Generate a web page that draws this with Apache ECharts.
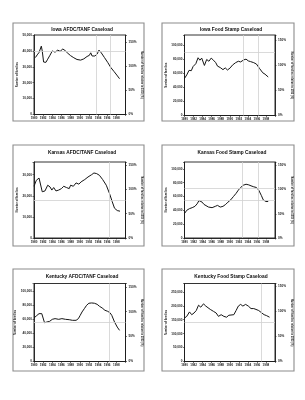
<!DOCTYPE html>
<html>
<head>
<meta charset="utf-8">
<script src="https://cdn.jsdelivr.net/npm/echarts@6/dist/echarts.min.js"></script>
<style>
html, body { margin: 0; padding: 0; background: #fff; }
#main { width: 305px; height: 400px; }
</style>
</head>
<body>
<div id="main"></div>
<script>
// year labels along every bottom axis
const yearTicks = [1980, 1982, 1984, 1986, 1988, 1990, 1992, 1994, 1996, 1998]
const pctTicks = [0, 50, 100, 150]

// Iowa AFDC/TANF
const iowaAfdcYears = [1980.3, 1980.7, 1981.1, 1981.6, 1981.8, 1982.1, 1982.6, 1983.0, 1983.5, 1984.0, 1984.6, 1985.2, 1985.7, 1986.3, 1986.8, 1987.4, 1988.0, 1988.7, 1989.4, 1990.2, 1990.9, 1991.6, 1992.1, 1992.4, 1992.7, 1993.3, 1993.8, 1994.2, 1994.7, 1995.4, 1996.1, 1996.8, 1997.5, 1998.1, 1998.7]
const iowaAfdcFamilies = [35800, 37500, 39000, 43000, 40000, 33000, 32800, 34800, 37300, 40000, 39200, 40500, 39700, 41200, 40200, 38500, 37000, 35700, 34600, 34200, 35000, 36500, 37200, 38800, 36800, 36800, 38000, 40500, 38800, 35800, 32800, 29500, 27000, 24800, 22500]

// Iowa Food Stamp
const iowaFsYears = [1979.9, 1980.5, 1981.0, 1981.5, 1981.9, 1982.5, 1983.0, 1983.4, 1983.8, 1984.4, 1984.9, 1985.4, 1985.9, 1986.4, 1986.9, 1987.3, 1987.9, 1988.5, 1989.0, 1989.5, 1990.1, 1990.6, 1991.3, 1991.9, 1992.4, 1993.1, 1993.6, 1994.1, 1994.6, 1995.3, 1995.9, 1996.6, 1997.3, 1997.8, 1998.5]
const iowaFsFamilies = [52000, 58000, 64500, 64000, 70000, 74000, 82500, 79000, 82000, 71500, 80000, 77500, 82000, 79000, 75500, 70500, 68500, 65500, 68000, 65000, 68000, 72000, 75500, 77500, 76500, 79500, 80500, 78000, 77000, 75500, 73500, 67000, 61000, 59000, 55000]

// Kansas AFDC/TANF
const kansasAfdcYears = [1980.0, 1980.5, 1981.1, 1981.5, 1981.8, 1982.4, 1983.0, 1983.5, 1983.9, 1984.3, 1984.8, 1985.4, 1986.0, 1986.5, 1987.1, 1987.7, 1988.0, 1988.6, 1989.2, 1989.8, 1990.3, 1991.1, 1991.8, 1992.6, 1993.1, 1993.7, 1994.3, 1995.0, 1995.8, 1996.5, 1997.1, 1997.6, 1998.2, 1998.8]
const kansasAfdcFamilies = [24500, 27300, 28400, 28100, 21900, 22300, 25000, 24200, 22700, 23900, 22300, 22700, 23400, 24500, 23900, 23400, 25000, 24500, 26100, 25500, 26600, 27700, 28900, 30000, 30800, 30500, 29700, 27700, 25000, 21100, 17200, 14100, 13000, 12700]

// Kansas Food Stamp
const kansasFsYears = [1980.0, 1980.5, 1981.1, 1981.7, 1982.3, 1982.8, 1983.2, 1983.6, 1983.9, 1984.3, 1984.7, 1985.3, 1986.1, 1986.8, 1987.3, 1987.9, 1988.5, 1989.1, 1989.6, 1990.2, 1990.8, 1991.4, 1991.9, 1992.4, 1993.0, 1993.6, 1994.2, 1994.7, 1995.3, 1995.9, 1996.4, 1997.0, 1997.4, 1998.0, 1998.5]
const kansasFsFamilies = [35400, 40100, 42500, 43900, 45800, 49500, 54200, 51900, 51900, 48600, 45800, 44800, 43900, 45800, 47200, 44800, 45800, 48600, 51900, 55200, 59900, 64600, 69300, 73100, 76400, 77800, 76900, 75500, 74100, 73100, 69300, 61300, 55200, 52800, 52800]

// Kentucky AFDC/TANF
const kentuckyAfdcYears = [1980.0, 1980.5, 1981.1, 1981.7, 1982.1, 1982.3, 1982.8, 1983.4, 1984.0, 1984.6, 1985.4, 1986.1, 1986.9, 1987.7, 1988.4, 1989.2, 1989.7, 1990.1, 1990.5, 1991.0, 1991.5, 1992.0, 1992.6, 1993.2, 1993.8, 1994.3, 1994.9, 1995.5, 1996.1, 1996.6, 1997.0, 1997.6, 1998.2, 1998.7]
const kentuckyAfdcFamilies = [61900, 64800, 68100, 68100, 65700, 55200, 56200, 57100, 60000, 61000, 60000, 61000, 60000, 59500, 58600, 58600, 61000, 65700, 70500, 75200, 80000, 82900, 83300, 82900, 81400, 78600, 76200, 72900, 71400, 69500, 65700, 56200, 49000, 44300]

// Kentucky Food Stamp
const kentuckyFsYears = [1980.0, 1980.5, 1981.1, 1981.6, 1982.1, 1982.6, 1983.1, 1983.6, 1984.2, 1984.7, 1985.2, 1985.7, 1986.4, 1987.0, 1987.5, 1988.1, 1988.7, 1989.3, 1989.8, 1990.2, 1990.9, 1991.4, 1991.9, 1992.4, 1992.9, 1993.5, 1994.1, 1994.7, 1995.3, 1995.8, 1996.4, 1997.1, 1997.6, 1998.1, 1998.8]
const kentuckyFsFamilies = [156000, 162000, 178000, 168000, 174000, 183000, 202000, 195000, 207000, 199000, 193000, 187000, 180000, 174000, 162000, 168000, 162000, 159000, 166000, 171000, 168000, 183000, 199000, 205000, 199000, 205000, 199000, 190000, 190000, 187000, 183000, 174000, 168000, 165000, 159000]

// six panels: data, left axis range, 100% level for the right axis, faint guide lines
const panels = [
  { title: 'Iowa AFDC/TANF Caseload', years: iowaAfdcYears, values: iowaAfdcFamilies, max: 50000, step: 10000, base: 30300, refYears: [1993.5, 1996.7], refLevels: [40000] },
  { title: 'Iowa Food Stamp Caseload', years: iowaFsYears, values: iowaFsFamilies, max: 115000, step: 20000, base: 71400, refYears: [1993, 1996.3], refLevels: [90500] },
  { title: 'Kansas AFDC/TANF Caseload', years: kansasAfdcYears, values: kansasAfdcFamilies, max: 36000, step: 10000, base: 23000, refYears: [1996.5], refLevels: [17700] },
  { title: 'Kansas Food Stamp Caseload', years: kansasFsYears, values: kansasFsFamilies, max: 110000, step: 20000, base: 70000, refYears: [1992.8, 1996.3], refLevels: [72000, 54000] },
  { title: 'Kentucky AFDC/TANF Caseload', years: kentuckyAfdcYears, values: kentuckyAfdcFamilies, max: 111000, step: 20000, base: 70900, refYears: [1996.5], refLevels: [56000] },
  { title: 'Kentucky Food Stamp Caseload', years: kentuckyFsYears, values: kentuckyFsFamilies, max: 280000, step: 50000, base: 180000, refYears: [1997], refLevels: [140000] }
]

// page layout (pixels), one entry per panel
const layout = [
  { frame: [13, 23, 131, 98], grid: [34, 35, 91.5, 79.5], titleY: 30, titleX: 82 },
  { frame: [162, 23, 132, 98], grid: [184.5, 35, 90.5, 80.5], titleY: 30, titleX: 231 },
  { frame: [13, 145, 131, 101], grid: [34, 162, 91.5, 76], titleY: 153, titleX: 82 },
  { frame: [162, 145, 132, 101], grid: [184.5, 162, 90.5, 76], titleY: 153, titleX: 232 },
  { frame: [13, 269, 131, 102], grid: [34, 283.5, 91.5, 78], titleY: 277, titleX: 82 },
  { frame: [162, 269, 132, 102], grid: [184.5, 283.5, 90.5, 78], titleY: 277, titleX: 231 }
]

const font = 'Liberation Sans, Arial, sans-serif'
const ink = '#1c1c1c'

const grids = []
const xAxes = []
const yAxes = []
const series = []
const graphics = []

panels.forEach((p, i) => {
  const L = layout[i]
  graphics.push({
    type: 'rect',
    shape: { x: L.frame[0], y: L.frame[1], width: L.frame[2], height: L.frame[3] },
    style: { fill: null, stroke: '#8c8c8c', lineWidth: 1.1 },
    silent: true
  })
  graphics.push({
    type: 'text',
    x: L.titleX,
    y: L.titleY,
    style: { text: p.title, fontSize: 4.8, fontWeight: 'bold', fontFamily: font, fill: '#0d0d0d', align: 'center', verticalAlign: 'middle' },
    silent: true
  })
  grids.push({
    left: L.grid[0], top: L.grid[1], width: L.grid[2], height: L.grid[3],
    show: true, borderColor: ink, borderWidth: 0.9, backgroundColor: 'transparent'
  })
  xAxes.push({
    type: 'value', gridIndex: i, min: 1980, max: 2000, interval: 2,
    axisLine: { lineStyle: { color: ink, width: 0.9 } },
    axisTick: { length: 1.5, lineStyle: { color: ink, width: 0.6 } },
    splitLine: { show: false },
    axisLabel: {
      fontSize: 3, fontWeight: 'bold', color: ink, fontFamily: font, margin: 2.5,
      formatter: v => (yearTicks.includes(v) ? String(v) : '')
    }
  })
  yAxes.push({
    type: 'value', gridIndex: i, position: 'left', min: 0, max: p.max, interval: p.step,
    name: 'Number of families', nameLocation: 'middle', nameGap: 15.5,
    nameTextStyle: { fontSize: 2.8, fontWeight: 'bold', color: ink, fontFamily: font },
    axisLine: { show: true, lineStyle: { color: ink, width: 0.9 } },
    axisTick: { show: true, length: 1.5, lineStyle: { color: ink, width: 0.6 } },
    splitLine: { show: false },
    axisLabel: {
      fontSize: 3.1, fontWeight: 'bold', color: ink, fontFamily: font, margin: 2,
      formatter: v => (v % p.step === 0 ? v.toLocaleString('en-US') : '')
    }
  })
  yAxes.push({
    type: 'value', gridIndex: i, position: 'right', min: 0, max: p.max / p.base * 100, interval: 50,
    name: 'Number of families relative to 1993 (%)', nameLocation: 'middle', nameGap: 14, nameRotate: -90,
    nameTextStyle: { fontSize: 2.6, fontWeight: 'bold', color: ink, fontFamily: font },
    axisLine: { show: true, lineStyle: { color: ink, width: 0.9 } },
    axisTick: { show: true, length: 1.5, lineStyle: { color: ink, width: 0.6 } },
    splitLine: { show: false },
    axisLabel: {
      fontSize: 3.1, fontWeight: 'bold', color: ink, fontFamily: font, margin: 3,
      formatter: v => (pctTicks.includes(v) ? v + '%' : '')
    }
  })
  series.push({
    type: 'line',
    xAxisIndex: i,
    yAxisIndex: 2 * i,
    data: p.years.map((y, k) => [y, p.values[k]]),
    showSymbol: false,
    lineStyle: { color: '#151515', width: 1 },
    animation: false,
    markLine: {
      silent: true,
      symbol: 'none',
      label: { show: false },
      lineStyle: { color: '#d0d0d0', width: 0.8, type: 'solid' },
      data: p.refYears.map(y => ({ xAxis: y })).concat(p.refLevels.map(v => ({ yAxis: v })))
    }
  })
})

const myChart = echarts.init(document.getElementById('main'))
myChart.setOption({
  backgroundColor: '#fff',
  animation: false,
  grid: grids,
  xAxis: xAxes,
  yAxis: yAxes,
  series: series,
  graphic: graphics
})
</script>
</body>
</html>
